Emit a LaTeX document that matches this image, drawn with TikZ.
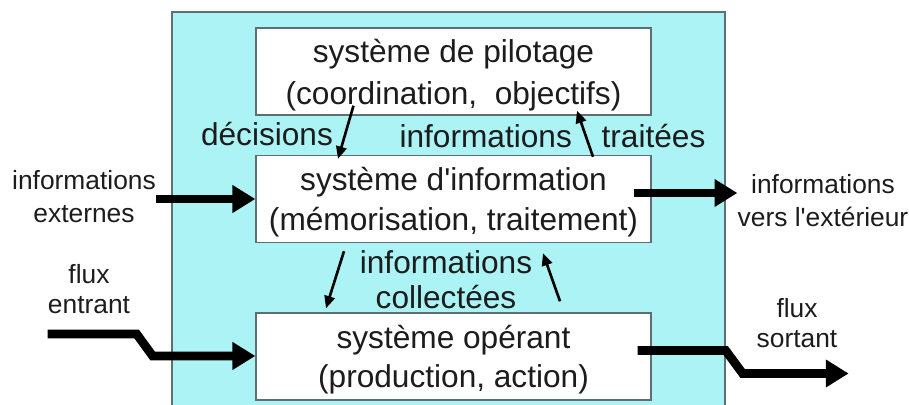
\documentclass[tikz,border=0pt]{standalone}
\usepackage{fontspec}
\setmainfont{Liberation Sans}[Ligatures=TeXOff]
\usepackage{xcolor}
\usepackage{tikz}
\usetikzlibrary{arrows.meta, calc, positioning}

\definecolor{fundo}{RGB}{172,243,245}
\definecolor{borda}{RGB}{95,110,112}
\definecolor{texto}{RGB}{28,28,28}

\begin{document}
\begin{tikzpicture}[x=0.02cm, y=-0.02cm, text=texto,
	sistema/.style={draw=borda, thick, fill=white, minimum width=7.9cm,
		minimum height=1.74cm, align=center, inner sep=0pt, text depth=0pt,
		font=\fontsize{18}{22.5}\selectfont},
	rotulo/.style={align=center, inner sep=0pt, font=\fontsize{18}{20}\selectfont},
	lateral/.style={align=center, inner sep=0pt, font=\fontsize{15}{18.8}\selectfont},
	grossa/.style={line width=5pt, -{Triangle[length=13pt, width=15pt]}},
	fina/.style={line width=1.5pt, -{Triangle[length=7pt, width=6pt]}}]
				\useasboundingbox (0,0) rectangle (909,405);
				
				%% Fundo
				\fill [fundo] (172,12) rectangle (725,405);
				\draw [borda, thick] (172,405) |- (725,12) -- (725,405);
				
				%% Sistemas
				\node [sistema, font=\fontsize{18}{24}\selectfont] (pil) at (453.5,71.5)
				{système de pilotage\\(coordination,\ \ objectifs)};
				
				\node [sistema] (info) at (453.5,199)
				{système d'information\\(mémorisation, traitement)};
				
				\node [sistema] (op) at (453.5,356.5)
				{système opérant\\(production, action)};
				
				%% Rótulos
				\node [rotulo] (dec) at (267,134) {décisions};
				\node [rotulo] (trait) at (552.5,136) {informations\hspace{17pt}traitées};
				\node [rotulo] (coll) at (446,280) {informations\\collectées};
				
				\node [lateral] (extin) at (84,197) {informations\\externes};
				\node [lateral] (extout) at (823,201) {informations\\vers l'extérieur};
				\node [lateral, font=\fontsize{15}{17}\selectfont] (fluxin) at (89,289) {flux\\entrant};
				\node [lateral, font=\fontsize{15}{17.5}\selectfont] (fluxout) at (797,323) {flux\\sortant};
				
				%% Fluxos
				\draw [grossa] (extin.east |- info.west) -- (info.west);
				
				\draw [grossa] ($(info.east)+(-18,-6)$) coordinate (o1)
				-- (extout.west |- o1);
				
				\draw [grossa] ($(fluxin.south west)+(0,20)$) -- ++(89,0)
				-- ++(16,22) coordinate (k1) -- (op.west |- k1);
				
				\draw [grossa] ($(op.east)+(-14,-6)$) -- ++(88,0)
				-- ++(17,23) -- ++(106,0);
				
				%% Informações
				\draw [fina] ($(pil.south)+(-100,-10)$) -- ($(info.north)+(-115.5,4)$);
				\draw [fina] ($(info.north)+(139.5,2)$) -- ($(pil.south)+(123.5,-5)$);
				\draw [fina] ($(info.south)+(-109.5,8)$) -- ($(op.north)+(-127.5,-4)$);
				\draw [fina] ($(op.north)+(106.5,-11)$) -- ($(info.south)+(89.5,10)$);
			\end{tikzpicture}
\end{document}
